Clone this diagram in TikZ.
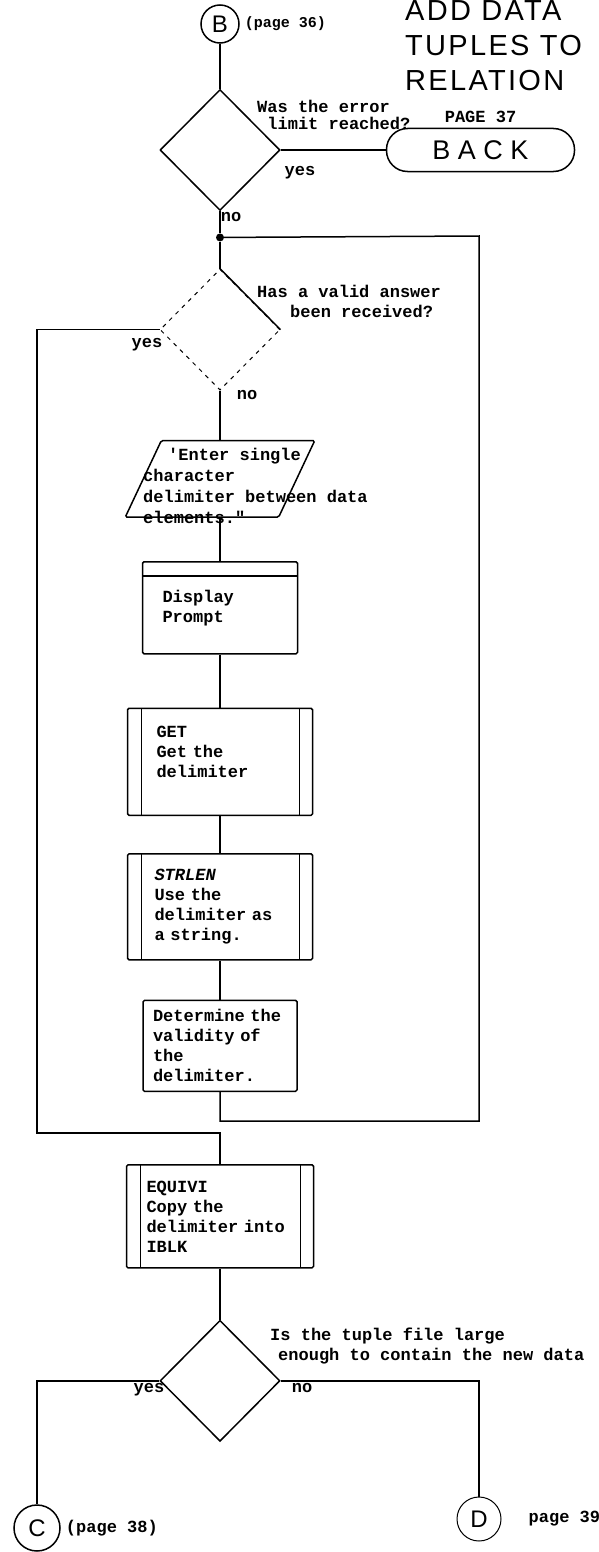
\documentclass[tikz,border=0pt]{standalone}
\usepackage{fontspec}
\usepackage{tikz}
\usetikzlibrary{shapes.geometric, positioning}

\newfontfamily\typefont{Liberation Mono}
\newfontfamily\signfont{Liberation Sans}
\newfontfamily\titlefont[LetterSpace=8]{Liberation Sans}

\begin{document}
\begin{tikzpicture}[x=1pt, y=-1pt, node distance=40pt, auto,
        base/.style={font=\typefont\bfseries\fontsize{17}{20}\selectfont},
        block/.style={base, rectangle, draw, line width=1.5pt, align=left, rounded corners=1.5pt},
        header/.style={path picture={\draw[line width=1.5pt] ([yshift=-14pt]path picture bounding box.north west) -- ([yshift=-14pt]path picture bounding box.north east);}},
        subproc/.style={block, path picture={
            \draw[line width=1.5pt] ([xshift=14pt]path picture bounding box.north west) -- ([xshift=14pt]path picture bounding box.south west);
            \draw[line width=1.5pt] ([xshift=-13pt]path picture bounding box.north east) -- ([xshift=-13pt]path picture bounding box.south east);}},
        decision/.style={diamond, draw, line width=1.5pt, minimum width=120pt, minimum height=121pt, inner sep=0pt, aspect=1},
        io/.style={rectangle, minimum width=153pt, minimum height=76pt, inner sep=0pt},
        connector/.style={circle, draw, line width=1.5pt, minimum size=#1, inner sep=0pt, font=\signfont\fontsize{24}{24}\selectfont},
        term/.style={rectangle, draw, line width=1.5pt, rounded corners=21pt, minimum width=188pt, minimum height=43pt, font=\signfont\fontsize{27}{27}\selectfont},
        lbl/.style={base, inner sep=0pt, align=left},
        line/.style={draw, line width=1.5pt}]

        \useasboundingbox (0,0) rectangle (599,1552);
        \fill[white] (0,0) rectangle (599,1552);

        \node [lbl, anchor=north west, font=\titlefont\fontsize{29}{35}\selectfont] (title) at (405,0) {ADD DATA\\TUPLES TO\\RELATION};

        \node [connector=38pt] (b) at (220,24) {B};
        \node [lbl, right=5pt of b, font=\typefont\bfseries\fontsize{15}{18}\selectfont] (pb) {(page 36)};

        % error limit test
        \node [decision, below=45pt of b] (q1) {};
        \node [term, right=105pt of q1] (back) {B A C K};
        \node [lbl, above=5pt of back] (pback) {PAGE 37};
        \node [lbl, anchor=north west, font=\typefont\bfseries\fontsize{17}{17}\selectfont] (q1txt) at (257,100) {Was the error\\~limit reached?};
        \node [lbl] (q1yes) at (300,173) {yes};
        \node [lbl] (q1no) at (231,217) {no};

        \node [circle, fill, minimum size=8pt, inner sep=0pt, below=22pt of q1] (dot) {};

        % answer loop
        \node [decision, below=27pt of dot, dash pattern=on 4pt off 5pt, line width=1pt] (q2) {};
        \node [lbl, anchor=north west] (q2txt) at (257,285) {Has a valid answer\\\hspace*{33pt}been received?};
        \node [lbl] (q2yes) at (147,345) {yes};
        \node [lbl] (q2no) at (247,395) {no};

        \node [io, below=50pt of q2] (inp) {};
        \draw [line, rounded corners=1.5pt] ([xshift=-18pt]inp.south west) -- ([xshift=18pt]inp.north west) -- ([xshift=18pt]inp.north east) -- ([xshift=-18pt]inp.south east) -- cycle;
        \node [lbl, anchor=north west, font=\typefont\bfseries\fontsize{17}{21}\selectfont] (inptxt) at (143,448) {\hspace*{25pt}'Enter single\\character\\delimiter between data\\elements."};

        \node [block, header, below=44pt of inp, minimum width=155pt, minimum height=92pt, text width=115pt, inner xsep=20pt] (disp) {Display\\Prompt};
        \node [subproc, below=53pt of disp, minimum width=185pt, minimum height=107pt, text width=127pt, inner xsep=29pt] (get) {GET\\Get the\\delimiter\\\mbox{}};
        \node [subproc, below=37pt of get, minimum width=185pt, minimum height=106pt, text width=131pt, inner xsep=27pt] (strlen) {{\itshape STRLEN}\\Use the\\delimiter as\\a string.};
        \node [block, below=39pt of strlen, minimum width=154pt, minimum height=91pt, text width=134pt, inner xsep=10pt] (valid) {Determine the\\validity of\\the\\delimiter.};

        \node [subproc, below=72pt of valid, minimum width=187pt, minimum height=103pt, text width=147pt, inner xsep=20pt] (equiv) {EQUIVI\\Copy the\\delimiter into\\IBLK};

        % tuple file test
        \node [decision, below=51pt of equiv] (q3) {};
        \node [lbl, anchor=north west] (q3txt) at (270,1328) {Is the tuple file large\\\hspace*{8pt}enough to contain the new data};
        \node [lbl] (q3yes) at (149,1390) {yes};
        \node [lbl] (q3no) at (302,1388) {no};

        \node [connector=46pt] (c) at (37,1528) {C};
        \node [lbl, right=5pt of c] (pc) {(page 38)};
        \node [connector=44pt, line width=1pt] (d) at (479,1519) {D};
        \node [lbl, right=27pt of d] (pd) {page 39};

        \path [line] (b) -- (q1);
        \path [line] (q1.east) -- (back);
        \path [line] (q1.south) -- (dot);
        \path [line] (dot) -- (q2.north);
        \path [line] (q2.north) -- (q2.east);
        \path [line] (q2.south) -- (inp.north);
        \path [line] (inp.south) -- (disp.north);
        \path [line] (disp) -- (get);
        \path [line] (get) -- (strlen);
        \path [line] (strlen) -- (valid);
        \path [line] (valid.south) -- ++(0,29) -| (479,236) -- (dot);
        \path [line] (q2.west) -| (37,1133) -| (equiv.north);
        \path [line] (equiv) -- (q3);
        \path [line] (q3.west) -| (c.north);
        \path [line] (q3.east) -| (d.north);
    \end{tikzpicture}
\end{document}
